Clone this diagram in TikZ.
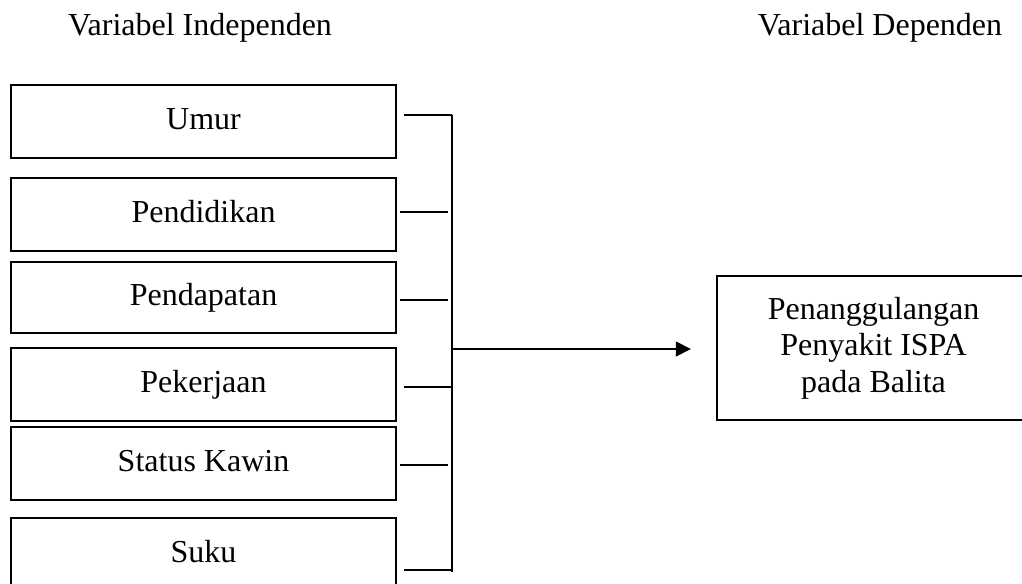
\documentclass[tikz,border=0pt]{standalone}
\usepackage{fontspec}
\setmainfont{Liberation Serif}
\usetikzlibrary{arrows.meta}
\begin{document}
\begin{tikzpicture}[x=0.375pt,y=-0.375pt,
    font=\fontsize{12}{13.7}\selectfont, line width=0.75pt,
    varbox/.style={draw, minimum width=144.4pt, minimum height=27.4pt,
        inner sep=0pt, text height=8pt, text depth=2pt},
    stub/.style={shorten >=#1}]
    \useasboundingbox (0,0) rectangle (1022,584);
    % judul
    \node[anchor=base] (indep) at (200,36) {Variabel Independen};
    \node[anchor=base] (dep) at (880,36) {Variabel Dependen};
    % variabel independen
    \node[varbox] (umur) at (203.5,121.5) {Umur};
    \node[varbox] (didik) at (203.5,214.5) {Pendidikan};
    \node[varbox, minimum height=26.6pt] (dapat) at (203.5,297.5) {Pendapatan};
    \node[varbox] (kerja) at (203.5,384.5) {Pekerjaan};
    \node[varbox] (kawin) at (203.5,463.5) {Status Kawin};
    \node[varbox] (suku) at (203.5,554.5) {Suku};
    % variabel dependen
    \node[draw, minimum width=117.4pt, minimum height=54pt, align=center,
        inner sep=0pt] (ispa) at (873.5,348)
        {Penanggulangan\\Penyakit ISPA\\pada Balita};
    % garis penghubung
    \coordinate (b1) at (452,115);
    \coordinate (b2) at (452,212);
    \coordinate (b3) at (452,300);
    \coordinate (b4) at (452,387);
    \coordinate (b5) at (452,465);
    \coordinate (b6) at (452,570);
    \coordinate (btop) at (452,115);
    \coordinate (bbot) at (452,572);
    \coordinate (bjoin) at (452,349);
    \draw (btop) -- (bbot);
    \draw[stub=2.6pt] (b1) -- (b1 -| umur.east);
    \draw[stub=1.1pt, shorten <=1.5pt] (b2) -- (b2 -| didik.east);
    \draw[stub=1.1pt, shorten <=1.5pt] (b3) -- (b3 -| dapat.east);
    \draw[stub=2.6pt] (b4) -- (b4 -| kerja.east);
    \draw[stub=1.1pt, shorten <=1.5pt] (b5) -- (b5 -| kawin.east);
    \draw[stub=2.6pt] (b6) -- (b6 -| suku.east);
    \draw[-{Triangle[length=5.6pt,width=5.5pt]}, shorten >=9.4pt]
        (bjoin) -- (bjoin -| ispa.west);
\end{tikzpicture}
\end{document}
